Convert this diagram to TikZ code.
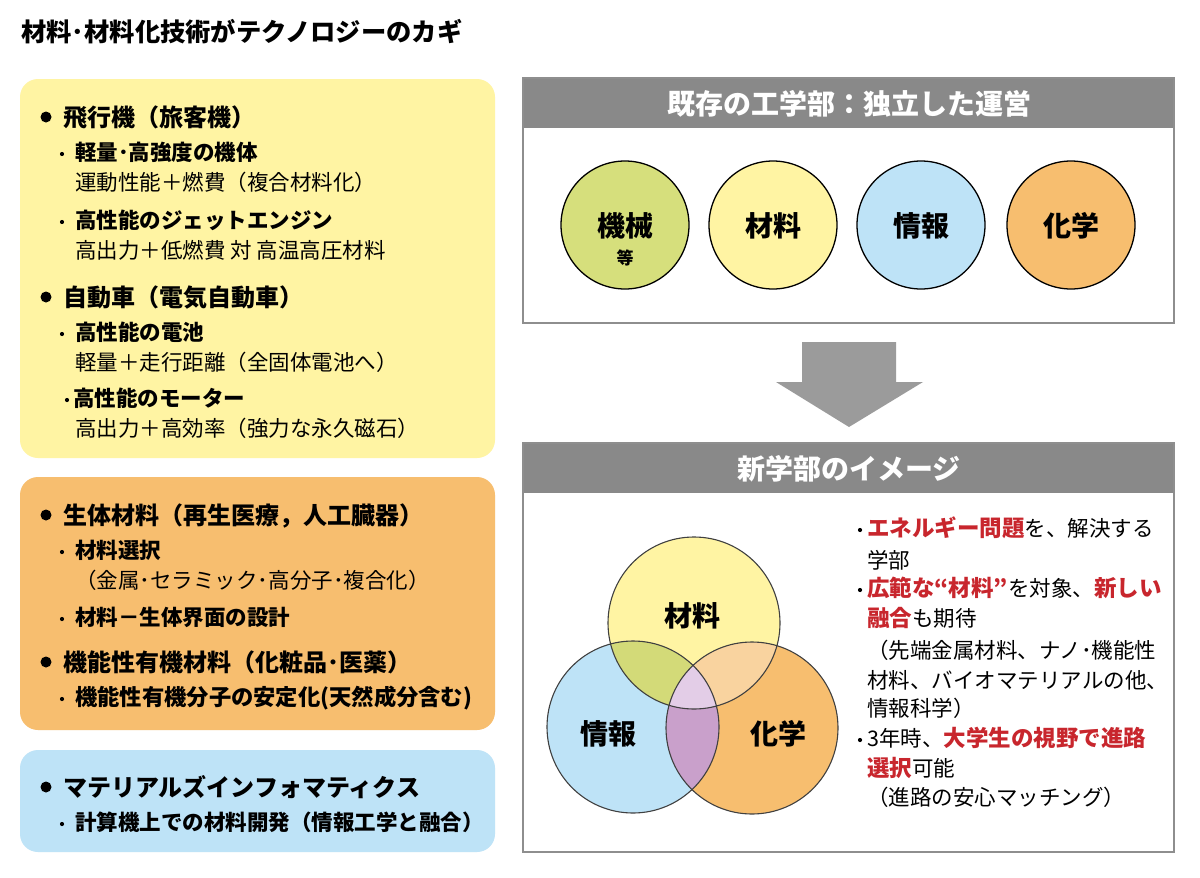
\documentclass[tikz,border=0pt]{standalone}
\usepackage{fontspec}
\setmainfont{Noto Sans CJK JP}
\definecolor{boxyel}{HTML}{FFF4A3}
\definecolor{boxora}{HTML}{F7BE6F}
\definecolor{boxblu}{HTML}{BEE3F7}
\definecolor{cgreen}{HTML}{D6DF7C}
\definecolor{vol}{HTML}{D3DA78}
\definecolor{vpeach}{HTML}{F9D39F}
\definecolor{vpurp}{HTML}{C9A0CB}
\definecolor{vlav}{HTML}{E3CDE7}
\definecolor{hdgray}{HTML}{898989}
\definecolor{bdgray}{HTML}{8E8E8E}
\definecolor{argray}{HTML}{9B9B9B}
\definecolor{jred}{RGB}{200,38,45}
\newcommand{\rd}[1]{{\fontsize{22.5}{26}\selectfont\textcolor{jred}{\bfseries #1}}}
\tikzset{
  hd/.style={anchor=west, inner sep=0pt, text height=21.1pt, text depth=2.9pt, font=\fontsize{24}{28}\selectfont\bfseries},
  sb/.style={anchor=west, inner sep=0pt, text height=18.9pt, text depth=2.6pt, font=\fontsize{21.5}{25}\selectfont\bfseries},
  nm/.style={anchor=west, inner sep=0pt, text height=18.9pt, text depth=2.6pt, font=\fontsize{21.5}{25}\selectfont},
  ttl/.style={anchor=west, inner sep=0pt, text height=22pt, text depth=3pt, font=\fontsize{25.3}{29}\selectfont\bfseries},
  bigdot/.style={circle, fill=black, inner sep=0pt, minimum size=11pt},
  smdot/.style={circle, fill=black, inner sep=0pt, minimum size=4.2pt},
  lbl/.style={font=\fontsize{28}{32}\selectfont\bfseries, inner sep=0pt},
  hdr/.style={font=\fontsize{28}{32}\selectfont\bfseries, text=white, inner sep=0pt},
  vc/.style={draw=black!75, line width=1.1pt},
  oc/.style={draw=black, line width=1.3pt},
}
\begin{document}
\begin{tikzpicture}[x=1pt,y=-1pt]
\useasboundingbox[fill=white] (0,0) rectangle (1200,878);

% title
\node[ttl] (title) at (21,32) {材料･材料化技術がテクノロジーのカギ};

% left boxes
\fill[boxyel, rounded corners=18pt] (20,79) rectangle (495,458);
\fill[boxora, rounded corners=18pt] (20,477) rectangle (495,730);
\fill[boxblu, rounded corners=18pt] (20,750) rectangle (495,852);

% yellow box content
\node[bigdot] (yb1) at (46,117) {};
\node[hd] (y1) at (63,117) {飛行機（旅客機）};
\node[smdot] (ys1) at (62,154) {};
\node[sb] (y2) at (75,152) {軽量･高強度の機体};
\node[nm] (y3) at (75,182) {運動性能＋燃費（複合材料化）};
\node[smdot] (ys2) at (62,222) {};
\node[sb] (y4) at (75,220) {高性能のジェットエンジン};
\node[nm] (y5) at (75,250) {高出力＋低燃費 対 高温高圧材料};
\node[bigdot] (yb2) at (46,297) {};
\node[hd] (y6) at (63,297) {自動車（電気自動車）};
\node[smdot] (ys3) at (62,334) {};
\node[sb] (y7) at (75,332) {高性能の電池};
\node[nm] (y8) at (75,362) {軽量＋走行距離（全固体電池へ）};
\node[smdot] (ys4) at (67,400) {};
\node[sb] (y9) at (73,398) {高性能のモーター};
\node[nm] (y10) at (75,428) {高出力＋高効率（強力な永久磁石）};

% orange box content
\node[bigdot] (ob1) at (46,515) {};
\node[hd] (o1) at (63,515) {生体材料（再生医療，人工臓器）};
\node[smdot] (os1) at (62,552) {};
\node[sb] (o2) at (75,550) {材料選択};
\node[nm] (o3) at (75,580) {（金属･セラミック･高分子･複合化）};
\node[smdot] (os2) at (62,619) {};
\node[sb] (o4) at (75,617) {材料－生体界面の設計};
\node[bigdot] (ob2) at (46,662) {};
\node[hd] (o5) at (63,662) {機能性有機材料（化粧品･医薬）};
\node[smdot] (os3) at (62,699) {};
\node[sb, font=\fontsize{22.3}{26}\selectfont\bfseries] (o6) at (75,697) {機能性有機分子の安定化(天然成分含む)};

% blue box content
\node[bigdot] (bb1) at (46,787) {};
\node[hd] (b1) at (63,787) {マテリアルズインフォマティクス};
\node[smdot] (bs1) at (62,824) {};
\node[sb] (b2) at (75,822) {計算機上での材料開発（情報工学と融合）};

% top right panel
\fill[hdgray] (523,78) rectangle (1174,128);
\draw[bdgray, line width=1.6pt] (523,78) rectangle (1174,323);
\node[hdr] (h1) at (849,104) {既存の工学部：独立した運営};
\draw[oc, fill=cgreen] (625,225) circle (64pt);
\draw[oc, fill=boxyel] (773,225) circle (64pt);
\draw[oc, fill=boxblu] (921,225) circle (64pt);
\draw[oc, fill=boxora] (1071,225) circle (64pt);
\node[lbl] (k1) at (625,226) {機械};
\node[font=\fontsize{17}{20}\selectfont\bfseries, inner sep=0pt] (k1b) at (625,258) {等};
\node[lbl] (k2) at (773,226) {材料};
\node[lbl] (k3) at (921,226) {情報};
\node[lbl] (k4) at (1071,226) {化学};

% arrow
\fill[argray] (802,342) -- (896,342) -- (896,382) -- (923,382) -- (849,427) -- (776,382) -- (802,382) -- cycle;

% bottom right panel
\fill[hdgray] (523,443) rectangle (1174,493);
\draw[bdgray, line width=1.6pt] (523,443) rectangle (1174,852);
\node[hdr] (h2) at (849,469) {新学部のイメージ};

% venn
\coordinate (cA) at (694,623);
\coordinate (cB) at (633,727);
\coordinate (cC) at (752,728);
\fill[boxyel] (cA) circle (86pt);
\fill[boxblu] (cB) circle (86pt);
\fill[boxora] (cC) circle (86pt);
\begin{scope}\clip (cA) circle (86pt); \fill[vol] (cB) circle (86pt);\end{scope}
\begin{scope}\clip (cA) circle (86pt); \fill[vpeach] (cC) circle (86pt);\end{scope}
\begin{scope}\clip (cB) circle (86pt); \fill[vpurp] (cC) circle (86pt);\end{scope}
\begin{scope}\clip (cA) circle (86pt); \clip (cB) circle (86pt); \fill[vlav] (cC) circle (86pt);\end{scope}
\draw[vc] (cA) circle (86pt);
\draw[vc] (cB) circle (86pt);
\draw[vc] (cC) circle (86pt);
\node[lbl] (v1) at (692,616) {材料};
\node[lbl] (v2) at (608,734) {情報};
\node[lbl] (v3) at (778,734) {化学};

% right text
\node[smdot] (r1d) at (860,530) {};
\node[nm] (r1) at (867,528) {\rd{エネルギー問題}を、解決する};
\node[nm] (r2) at (867,560) {学部};
\node[smdot] (r3d) at (860,590) {};
\node[nm] (r3) at (867,588) {\rd{広範な“材料”}を対象、\rd{新しい}};
\node[nm] (r4) at (867,618) {\rd{融合}も期待};
\node[nm] (r5) at (867,650) {（先端金属材料、ナノ･機能性};
\node[nm] (r6) at (867,680) {材料、バイオマテリアルの他、};
\node[nm] (r7) at (867,708) {情報科学）};
\node[smdot] (r8d) at (860,740) {};
\node[nm] (r8) at (867,738) {3年時、\rd{大学生の視野で進路}};
\node[nm] (r9) at (867,768) {\rd{選択}可能};
\node[nm] (r10) at (867,797) {（進路の安心マッチング）};
\end{tikzpicture}
\end{document}
